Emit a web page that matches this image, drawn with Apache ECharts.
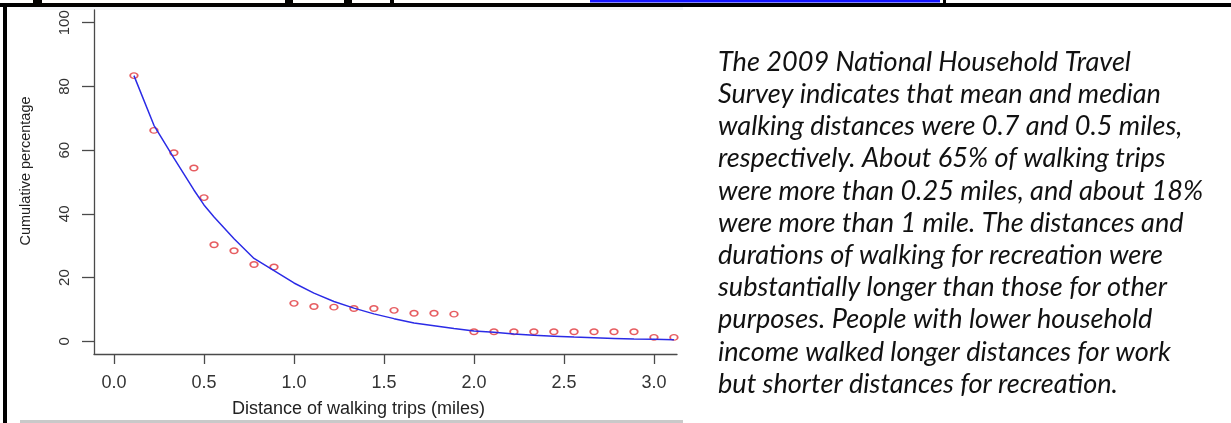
<!DOCTYPE html>
<html>
<head>
<meta charset="utf-8">
<script src="https://cdn.jsdelivr.net/npm/echarts@6/dist/echarts.min.js"></script>
<style>
  html, body { margin: 0; padding: 0; background: #fff; }
  #chart { width: 1231px; height: 423px; }
</style>
</head>
<body>
<div id="chart"></div>
<script>
// ---- data ----
const distanceMiles = [0.111, 0.222, 0.333, 0.444, 0.5, 0.556, 0.667, 0.778, 0.889, 1.0,
  1.111, 1.222, 1.333, 1.444, 1.556, 1.667, 1.778, 1.889, 2.0, 2.111,
  2.222, 2.333, 2.444, 2.556, 2.667, 2.778, 2.889, 3.0, 3.111];
const observedPct = [83.4, 66.2, 59.2, 54.4, 45.1, 30.3, 28.4, 24.1, 23.3, 11.9,
  10.9, 10.7, 10.3, 10.3, 9.7, 8.8, 8.8, 8.5, 3.0, 3.0,
  3.0, 3.0, 3.0, 3.0, 3.0, 3.0, 3.0, 1.2, 1.2];
const fittedPct = [83.4, 67.8, 57.5, 47.5, 42.8, 39.0, 32.2, 26.0, 22.2, 18.3,
  15.1, 12.5, 10.4, 8.6, 7.1, 5.7, 4.9, 4.0, 3.2, 2.8,
  2.3, 1.9, 1.6, 1.3, 1.1, 0.9, 0.7, 0.6, 0.5];
const xTicks = [0, 0.5, 1.0, 1.5, 2.0, 2.5, 3.0];
const yTicks = [0, 20, 40, 60, 80, 100];
const xTitle = 'Distance of walking trips (miles)';
const yTitle = 'Cumulative percentage';
const noteLines = [
  'The 2009 National Household Travel',
  'Survey indicates that mean and median',
  'walking distances were 0.7 and 0.5 miles,',
  'respectively. About 65% of walking trips',
  'were more than 0.25 miles, and about 18%',
  'were more than 1 mile. The distances and',
  'durations of walking for recreation were',
  'substantially longer than those for other',
  'purposes. People with lower household',
  'income walked longer distances for work',
  'but shorter distances for recreation.'
];

// ---- build ----
const scatterData = distanceMiles.map((x, i) => [x, observedPct[i]]);
const lineData = distanceMiles.map((x, i) => [x, fittedPct[i]]);

// size the note font so its widest reference line spans ~486px
const mctx = document.createElement('canvas').getContext('2d');
mctx.font = 'italic 100px Lato';
const refW = mctx.measureText(noteLines[4]).width || 2000;
const noteSize = Math.round(100 * 486 / refW * 10) / 10;

const graphics = [
  { type: 'rect', shape: { x: 20, y: 7, width: 663, height: 3 }, style: { fill: '#f2f4f8' }, silent: true },
  { type: 'rect', shape: { x: 20, y: 420, width: 663, height: 3 }, style: { fill: '#c9c9c9' }, silent: true },
  { type: 'rect', shape: { x: 0, y: 3, width: 1231, height: 4 }, style: { fill: '#000' }, silent: true },
  { type: 'rect', shape: { x: 3, y: 3, width: 4, height: 420 }, style: { fill: '#000' }, silent: true },
  { type: 'rect', shape: { x: 590, y: 0, width: 350, height: 2.5 }, style: { fill: '#1414ff' }, silent: true },
  { type: 'rect', shape: { x: 33, y: 0, width: 9, height: 3 }, style: { fill: '#000' }, silent: true },
  { type: 'rect', shape: { x: 285, y: 0, width: 8, height: 3 }, style: { fill: '#000' }, silent: true },
  { type: 'rect', shape: { x: 344, y: 0, width: 8, height: 3 }, style: { fill: '#000' }, silent: true },
  { type: 'rect', shape: { x: 390, y: 0, width: 4, height: 3 }, style: { fill: '#000' }, silent: true },
  { type: 'rect', shape: { x: 943, y: 0, width: 3, height: 3 }, style: { fill: '#000' }, silent: true }
];
noteLines.forEach((t, i) => {
  graphics.push({
    type: 'text', x: 718, y: 62 + i * 32.2, silent: true,
    style: { text: t, fill: '#111', font: 'italic ' + noteSize + 'px Lato', align: 'left', verticalAlign: 'middle' }
  });
});

const chart = echarts.init(document.getElementById('chart'), null, { renderer: 'canvas' });
chart.setOption({
  animation: false,
  backgroundColor: '#fff',
  grid: { left: 94, top: 10, width: 583, height: 347, containLabel: false },
  xAxis: {
    type: 'value', min: -0.111, max: 3.128,
    splitLine: { show: false },
    axisLine: { show: true, onZero: false, lineStyle: { color: '#4a4a4a', width: 1.3 } },
    axisTick: { show: true, length: 10, customValues: xTicks, lineStyle: { color: '#4a4a4a', width: 1.3 } },
    axisLabel: {
      customValues: xTicks, margin: 20, color: '#333', fontSize: 18, fontFamily: 'Liberation Sans',
      formatter: v => Number(v).toFixed(1)
    },
    name: xTitle, nameLocation: 'middle', nameGap: 46,
    nameTextStyle: { color: '#222', fontSize: 18, fontFamily: 'Liberation Sans', padding: [0, 54, 0, 0] }
  },
  yAxis: {
    type: 'value', min: -4, max: 104,
    splitLine: { show: false },
    axisLine: { show: true, onZero: false, lineStyle: { color: '#4a4a4a', width: 1.3 } },
    axisTick: { show: true, length: 12, customValues: yTicks, lineStyle: { color: '#4a4a4a', width: 1.3 } },
    axisLabel: {
      customValues: yTicks, rotate: 90, margin: 22, color: '#333', fontSize: 15, fontFamily: 'Liberation Sans'
    },
    name: yTitle, nameLocation: 'middle', nameRotate: 90, nameGap: 61,
    nameTextStyle: { color: '#222', fontSize: 14.5, fontFamily: 'Liberation Sans', padding: [0, 0, 0, 22] }
  },
  series: [
    {
      type: 'scatter', data: scatterData, symbol: 'circle', symbolSize: [7.5, 5.5],
      itemStyle: { color: 'rgba(0,0,0,0)', borderColor: '#e0343a', borderWidth: 1.6 },
      z: 2
    },
    {
      type: 'line', data: lineData, showSymbol: false, smooth: false,
      lineStyle: { color: '#2b2be6', width: 1.5 }, z: 3
    }
  ],
  graphic: graphics
});
</script>
</body>
</html>
